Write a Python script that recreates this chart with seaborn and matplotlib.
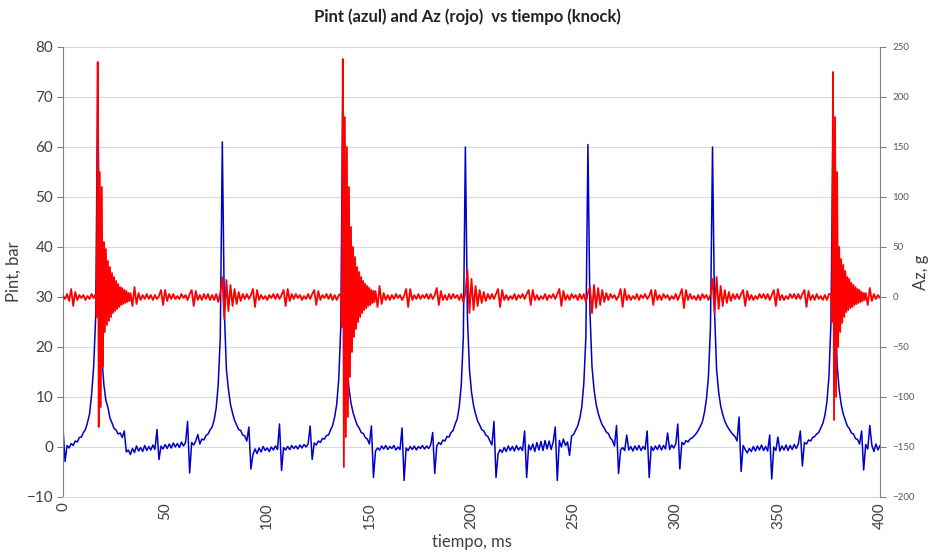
import matplotlib
matplotlib.use("Agg")
import matplotlib.pyplot as plt
import numpy as np
import pandas as pd
import seaborn as sns

# sample times for the pressure trace (1 ms sampling)
tiempo_ms = list(range(0, 401))

# cylinder pressure, bar (blue)
pint_bar = [
    3.8, -2.9, 0.3, -0.2, 0.7, 0.3, 1.2, 1.0, 1.9, 2.0,
    2.9, 3.5, 4.9, 6.6, 10.5, 16.0, 26.0, 73.0, 32.0, 18.0,
    12.5, 9.3, 7.9, 5.8, 4.8, 3.7, 3.4, 2.6, 2.8, 1.9,
    3.2, -1.0, -0.6, -1.5, -0.3, -1.1, 0.2, -0.8, -0.1, -0.9,
    0.3, -0.7, 0.1, -0.6, 0.4, -0.5, 3.5, -2.5, 0.2, -0.4,
    0.5, -0.3, 0.6, -0.2, 0.8, 0.0, 0.7, -0.1, 1.0, 0.2,
    0.9, 5.1, -5.2, 0.9, 0.4, 1.2, 2.5, 0.6, 1.6, 1.4,
    2.3, 2.6, 3.4, 4.0, 5.4, 7.8, 12.5, 22.0, 61.0, 27.0,
    15.5, 11.5, 8.5, 6.8, 5.3, 4.4, 3.5, 3.3, 2.4, 2.2,
    1.2, 4.0, -4.4, -1.5, -0.4, -1.3, -0.2, -1.0, 0.1, -0.7,
    -0.2, -0.9, 0.0, -0.6, 0.2, -0.5, 4.6, -4.7, -0.1, -0.6,
    0.1, -0.5, 0.3, -0.3, 0.2, -0.4, 0.4, -0.2, 0.5, 0.0,
    0.6, 4.2, -2.5, 0.8, 0.4, 1.2, 0.9, 1.7, 1.6, 2.3,
    2.4, 3.4, 4.3, 6.0, 8.5, 13.5, 24.0, 72.0, 30.0, 17.0,
    11.8, 8.8, 6.9, 5.6, 4.4, 3.8, 2.9, 2.7, 1.9, 1.6,
    0.6, 4.2, -6.1, -0.8, -0.2, -0.6, 0.2, -0.4, 0.3, -0.5,
    0.1, -0.3, 0.3, -0.6, 0.0, -0.5, 3.8, -6.7, -0.2, -0.7,
    0.1, -0.5, 0.2, -0.6, 0.1, -0.3, 0.3, -0.4, 0.2, -0.3,
    0.4, 2.9, -5.3, 0.2, 0.9, 0.5, 1.4, 1.2, 2.1, 2.0,
    2.9, 3.3, 4.6, 5.6, 8.0, 12.5, 22.0, 60.0, 26.0, 15.5,
    11.0, 8.3, 6.6, 5.2, 4.4, 3.5, 3.2, 2.4, 2.1, 1.2,
    0.4, 5.1, -6.1, -1.4, -0.5, -1.1, -0.1, -0.9, 0.2, -0.7,
    0.1, -0.8, 0.3, -0.6, 0.0, -0.7, 3.2, -6.1, 0.4, -0.6,
    0.6, -0.9, 0.9, -0.6, 1.1, -0.7, 1.3, -0.4, 1.2, -0.5,
    1.0, 4.0, -6.7, 1.3, 0.0, 1.6, 0.3, 1.0, -1.7, 2.2,
    2.5, 3.4, 4.2, 5.7, 8.0, 12.8, 22.0, 60.5, 27.0, 16.0,
    11.5, 8.6, 6.8, 5.5, 4.4, 3.8, 3.0, 2.7, 1.8, 1.3,
    0.2, 4.3, -5.3, -0.6, -0.1, -0.7, 2.4, -0.6, 0.1, -0.8,
    0.2, -0.6, 0.3, -0.7, 0.1, -0.5, 3.2, -6.1, 0.1, -0.7,
    0.2, -0.5, 0.4, -0.6, 0.3, -0.4, 2.8, -0.5, 0.4, -0.2,
    0.6, 4.6, -4.4, 0.9, 0.5, 1.3, 1.0, 1.6, 1.8, 2.2,
    2.7, 3.3, 4.1, 5.0, 6.8, 9.5, 14.0, 24.0, 60.0, 27.0,
    15.5, 11.0, 8.2, 6.5, 5.2, 4.3, 3.6, 3.0, 2.5, 2.1,
    1.2, 6.0, -4.9, 0.3, -0.5, -1.2, -0.3, -0.9, 0.1, -0.8,
    0.2, -0.6, 0.4, -0.7, 0.1, -0.8, 2.4, -6.4, 0.0, -0.7,
    2.0, -0.8, 0.2, -0.6, 0.4, -0.7, 0.3, -0.5, 0.5, -0.3,
    0.6, 3.2, -3.8, 0.9, 0.6, 1.4, 1.2, 1.9, 2.1, 2.6,
    2.9, 3.8, 4.7, 6.3, 9.0, 14.0, 25.0, 65.0, 29.0, 16.5,
    11.5, 8.5, 6.6, 5.4, 4.2, 3.7, 2.8, 2.6, 1.7, 1.5,
    0.6, 3.2, -4.6, 0.5, -0.4, 4.3, 0.4, -0.9, 0.6, -0.6, 0.3,
]

# accelerometer sample times: 1 ms, plus 0.5 ms around the three knock events
knock_starts_ms = [16, 136, 376]
az_tiempo_ms = (list(range(0, 16))
                + [16 + 0.5 * k for k in range(34)]
                + list(range(33, 136))
                + [136 + 0.5 * k for k in range(34)]
                + list(range(153, 376))
                + [376 + 0.5 * k for k in range(34)]
                + list(range(393, 401)))

# vertical acceleration, g (red)
az_g = [
    # 0 .. 15 ms
    1, -2, 3, -4, 8, -9, 5, -3, 2, -1, 2, -3, 1, -2, 3, -1,
    # knock 1 : 16.0 .. 32.5 ms (0.5 ms)
    3, -20, 235, -130, 125, -110, 110, -70, 55, -35,
    48, -28, 36, -24, 30, -20, 24, -16, 20, -14,
    16, -12, 13, -10, 10, -8, 9, -7, 7, -6,
    6, -5, 4, -4,
    # 33 .. 135 ms
    4, -9, 10, -7, 4, -3, 2,
    -2, 3, -2, 2, -3, 2, -2, 1, 7, -8,
    7, -4, 3, -2, 3, -2, 1, -2, 3, -1,
    2, -3, 3, 7, -9, 6, -3, 2, -3, 3,
    -2, 3, -3, 2, -3, 3, -5, 4, 20, -22,
    17, -14, 12, -9, 8, -7, 5, -4, 3, -2,
    3, -2, 2, 8, -10, 7, -3, 2, -2, 1,
    -3, 2, -1, 3, -2, 3, -2, 2, 7, -9,
    8, -4, 3, -2, 3, -1, 2, -3, 1, -2,
    3, -2, 3, 7, -8, 6, -3, 2, -1, 3,
    -2, 3, -3, 2, -3, 2,
    # knock 2 : 136.0 .. 152.5 ms (0.5 ms)
    3, -30, 238, -170, 180, -140, 150, -120, 110, -80,
    70, -55, 50, -40, 40, -32, 30, -25, 25, -20,
    20, -16, 16, -13, 13, -11, 11, -9, 9, -8,
    7, -6, 6, -5,
    # 153 .. 375 ms
    6, -10, 11, -7, 4, -3, 2,
    -3, 2, -2, 3, -1, 2, -3, 1, 8, -10,
    8, -3, 2, -2, 3, -2, 2, -1, 3, -2,
    3, -2, 2, 9, -8, 6, -3, 2, -3, 3,
    -2, 3, -1, 2, -3, 3, -5, 4, 27, -16,
    18, -13, 11, -9, 7, -6, 5, -4, 3, -2,
    3, -2, 3, 8, -10, 7, -3, 2, -3, 1,
    -2, 3, -3, 2, -1, 3, -2, 3, 7, -8,
    7, -3, 2, -3, 1, -2, 3, -3, 2, -1,
    3, -2, 3, 8, -9, 6, -3, 2, -3, 3,
    -1, 2, -3, 3, -2, 3, -5, 4, 10, -16,
    12, -11, 9, -8, 7, -5, 4, -3, 3, -1,
    2, -3, 1, 8, -10, 8, -3, 2, -3, 1,
    -2, 3, -3, 2, -1, 3, -2, 1, 7, -8,
    7, -3, 2, -3, 3, -1, 2, -3, 1, -2,
    3, -3, 2, 8, -11, 7, -3, 3, -2, 1,
    -3, 2, -3, 3, -1, 2, -3, 2, 18, -16,
    20, -12, 11, -9, 7, -6, 5, -4, 3, -2,
    3, -2, 3, 7, -9, 6, -3, 2, -3, 1,
    -2, 3, -1, 3, -2, 3, -3, 2, 7, -9,
    8, -3, 2, -3, 1, -2, 3, -1, 3, -2,
    3, -2, 3, 7, -10, 6, -3, 2, -3, 3,
    -2, 1, -3, 2, -3, 3,
    # knock 3 : 376.0 .. 392.5 ms (0.5 ms)
    3, -25, 225, -123, 180, -100, 125, -50, 50, -35,
    38, -26, 32, -20, 26, -15, 20, -13, 18, -11,
    14, -10, 12, -8, 10, -7, 8, -6, 7, -5,
    5, -4, 4, -3,
    # 393 .. 400 ms
    4, -8, 9, -4, 3, -2, 2, -1,
]

pint_ticks = list(range(-10, 81, 10))
az_ticks = list(range(-200, 251, 50))
time_ticks = list(range(0, 401, 50))

n1 = min(len(tiempo_ms), len(pint_bar))
df_p = pd.DataFrame({"tiempo": tiempo_ms[:n1], "pint": pint_bar[:n1]})
n2 = min(len(az_tiempo_ms), len(az_g))
df_a = pd.DataFrame({"tiempo": az_tiempo_ms[:n2], "az": az_g[:n2]})

sns.set_style("white")
plt.rcParams["font.family"] = ["Lato", "DejaVu Sans"]

W, H = 929, 554
fig = plt.figure(figsize=(W / 100, H / 100), dpi=100)
ax = fig.add_axes([63 / W, 57 / H, 817 / W, 450 / H])

sns.lineplot(data=df_p, x="tiempo", y="pint", ax=ax, color="#0000CC",
             lw=1.1, estimator=None, sort=False)
ax2 = ax.twinx()
sns.lineplot(data=df_a, x="tiempo", y="az", ax=ax2, color="#FF0000",
             lw=1.3, estimator=None, sort=False)

ax.set_xlim(0, 400)
ax.set_ylim(-10, 80)
ax2.set_ylim(-200, 250)
ax.set_yticks(pint_ticks)
ax2.set_yticks(az_ticks)
ax.set_xticks(time_ticks)
ax.set_xticklabels([str(v) for v in time_ticks], rotation=90)

ax.grid(axis="y", color="#D9D9D9", lw=0.8)
ax.grid(axis="x", visible=False)
ax.set_axisbelow(True)

for s in ["top", "right"]:
    ax.spines[s].set_visible(False)
ax.spines["left"].set_color("#808080")
ax.spines["bottom"].set_color("#D9D9D9")
for s in ["top", "left", "bottom"]:
    ax2.spines[s].set_visible(False)
ax2.spines["right"].set_color("#808080")

ax.tick_params(axis="y", labelsize=11, labelcolor="#404040", length=4,
               color="#808080", left=True, pad=3)
ax.tick_params(axis="x", labelsize=11, labelcolor="#404040", length=0, pad=4)
ax2.tick_params(axis="y", labelsize=7, labelcolor="#595959", length=4,
                color="#808080", right=True, pad=5)

ax.set_xlabel("tiempo, ms", fontsize=12, color="#404040")
ax.xaxis.set_label_coords(0.5, (497 - 534) / 450)
ax.set_ylabel("Pint, bar", fontsize=12, color="#404040")
ax.yaxis.set_label_coords((22 - 63) / 817, 0.5)
ax2.set_ylabel("Az, g", fontsize=12, color="#404040")
ax2.yaxis.set_label_coords((913 - 63) / 817, 0.5)

fig.text(467 / W, 1 - 17 / H, "Pint (azul) and Az (rojo)  vs tiempo (knock)",
         ha="center", va="center", fontsize=12, fontweight="bold", color="#222222")

fig.savefig("out.png", dpi=100)
print(len(az_tiempo_ms), len(az_g))
